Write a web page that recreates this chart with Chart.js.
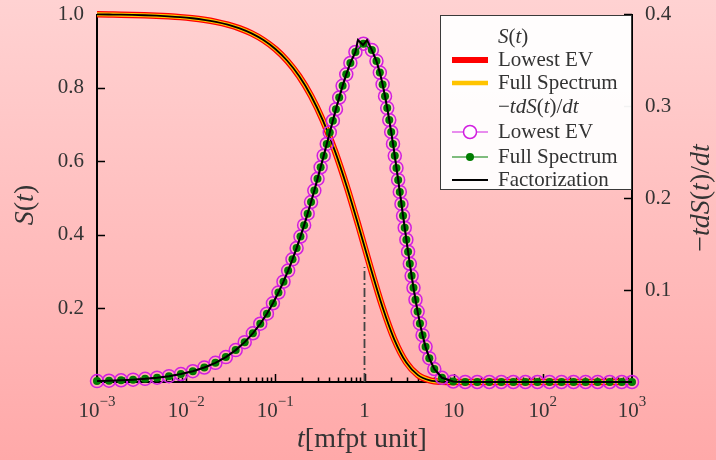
<!DOCTYPE html>
<html><head><meta charset="utf-8">
<script src="https://cdn.jsdelivr.net/npm/chart.js@4"></script>
<style>html,body{margin:0;padding:0;background:#ffc0c0;} canvas{display:block}</style>
</head><body>
<canvas id="c" width="716" height="460"></canvas>
<script>
// ---- data ----
// S(t) curves
const tSurvival = [0.001, 0.0013594, 0.0018478, 0.0025119, 0.0034145, 0.0046416, 0.0063096, 0.008577, 0.011659, 0.015849,
  0.021544, 0.029286, 0.039811, 0.054117, 0.073564, 0.1, 0.13594, 0.18478, 0.25119, 0.34145,
  0.46416, 0.63096, 0.8577, 1.1659, 1.5849, 2.1544, 2.9286, 3.9811, 5.4117, 7.3564,
  10, 13.594, 18.478, 25.119, 34.145, 46.416, 63.096, 85.77, 116.59, 158.49,
  215.44, 292.86, 398.11, 541.17, 735.64, 1000];
const survivalLowestEV = [0.999, 0.9986, 0.9982, 0.9975, 0.9966, 0.9954, 0.9937, 0.9915, 0.9884, 0.9843,
  0.9787, 0.9711, 0.961, 0.9473, 0.9291, 0.9048, 0.8729, 0.8313, 0.7779, 0.7107,
  0.6287, 0.5321, 0.4242, 0.3116, 0.205, 0.116, 0.0535, 0.0187, 0.0045, 0.0006,
  0, 0, 0, 0, 0, 0, 0, 0, 0, 0, 0, 0, 0, 0, 0, 0];
const survivalFullSpectrum = [0.999, 0.9986, 0.9982, 0.9975, 0.9966, 0.9954, 0.9937, 0.9915, 0.9884, 0.9843,
  0.9787, 0.9711, 0.961, 0.9473, 0.9291, 0.9048, 0.8729, 0.8313, 0.7779, 0.7107,
  0.6287, 0.5321, 0.4242, 0.3116, 0.205, 0.116, 0.0535, 0.0187, 0.0045, 0.0006,
  0, 0, 0, 0, 0, 0, 0, 0, 0, 0, 0, 0, 0, 0, 0, 0];
const survivalFactorization = [0.999, 0.9986, 0.9982, 0.9975, 0.9966, 0.9954, 0.9937, 0.9915, 0.9884, 0.9843,
  0.9787, 0.9711, 0.961, 0.9473, 0.9291, 0.9048, 0.8729, 0.8313, 0.7779, 0.7107,
  0.6287, 0.5321, 0.4242, 0.3116, 0.205, 0.116, 0.0535, 0.0187, 0.0045, 0.0006,
  0, 0, 0, 0, 0, 0, 0, 0, 0, 0, 0, 0, 0, 0, 0, 0];

// -t dS/dt: marker positions (evenly spaced along the drawn curve)
const tMarkers = [0.001, 0.001363, 0.001861, 0.002538, 0.003462, 0.004715, 0.006412, 0.008729, 0.01187, 0.01598,
  0.02128, 0.02786, 0.03593, 0.04534, 0.05598, 0.06776, 0.08045, 0.09397, 0.1083, 0.1234,
  0.1392, 0.1558, 0.1732, 0.1914, 0.2104, 0.2304, 0.2514, 0.2737, 0.2972, 0.3221,
  0.3487, 0.3772, 0.4079, 0.4416, 0.4786, 0.5203, 0.5679, 0.6243, 0.6944, 0.7914,
  0.9710, 1.210, 1.362, 1.486, 1.596, 1.699, 1.798, 1.896, 1.992, 2.088,
  2.185, 2.283, 2.385, 2.488, 2.597, 2.707, 2.824, 2.948, 3.080, 3.222,
  3.376, 3.544, 3.731, 3.942, 4.186, 4.477, 4.841, 5.327, 6.062, 7.394,
  9.874, 13.47, 18.38, 25.08, 34.23, 46.71, 63.74, 86.99, 118.7, 162.0,
  221.1, 301.6, 411.7, 561.8, 766.7, 1000];
const densityLowestEV = [0.000999, 0.001361, 0.001858, 0.002532, 0.003450, 0.004693, 0.006371, 0.008653, 0.01173, 0.01572,
  0.02083, 0.02710, 0.03467, 0.04333, 0.05293, 0.06332, 0.07423, 0.08554, 0.09722, 0.1091,
  0.1211, 0.1333, 0.1456, 0.1581, 0.1705, 0.1830, 0.1956, 0.2081, 0.2208, 0.2334,
  0.2460, 0.2587, 0.2712, 0.2840, 0.2966, 0.3092, 0.3219, 0.3344, 0.3468, 0.3587,
  0.3677, 0.3608, 0.3488, 0.3363, 0.3235, 0.3106, 0.2977, 0.2847, 0.2718, 0.2588,
  0.2458, 0.2327, 0.2197, 0.2066, 0.1935, 0.1806, 0.1677, 0.1547, 0.1416, 0.1285,
  0.1154, 0.1024, 0.0895, 0.0765, 0.0637, 0.0509, 0.0382, 0.0259, 0.0141, 0.0046,
  0.0005, 0, 0, 0, 0, 0, 0, 0, 0, 0,
  0, 0, 0, 0, 0, 0];
const densityFullSpectrum = [0.000999, 0.001361, 0.001858, 0.002532, 0.003450, 0.004693, 0.006371, 0.008653, 0.01173, 0.01572,
  0.02083, 0.02710, 0.03467, 0.04333, 0.05293, 0.06332, 0.07423, 0.08554, 0.09722, 0.1091,
  0.1211, 0.1333, 0.1456, 0.1581, 0.1705, 0.1830, 0.1956, 0.2081, 0.2208, 0.2334,
  0.2460, 0.2587, 0.2712, 0.2840, 0.2966, 0.3092, 0.3219, 0.3344, 0.3468, 0.3587,
  0.3677, 0.3608, 0.3488, 0.3363, 0.3235, 0.3106, 0.2977, 0.2847, 0.2718, 0.2588,
  0.2458, 0.2327, 0.2197, 0.2066, 0.1935, 0.1806, 0.1677, 0.1547, 0.1416, 0.1285,
  0.1154, 0.1024, 0.0895, 0.0765, 0.0637, 0.0509, 0.0382, 0.0259, 0.0141, 0.0046,
  0.0005, 0, 0, 0, 0, 0, 0, 0, 0, 0,
  0, 0, 0, 0, 0, 0];
// Factorization follows the same points, with a small double peak near t = 1
const factorizationPeakIndex = 40;
const factorizationPeakT = [0.845, 0.962, 1.067];
const factorizationPeakValue = [0.3717, 0.3663, 0.3717];

const markerLineT = [1, 1];
const markerLineS = [0, 0.3125];

const xTickValues = [0.001, 0.01, 0.1, 1, 10, 100, 1000];
const xTickBases = ['10', '10', '10', '1', '10', '10', '10'];
const xTickExps = ['\u22123', '\u22122', '\u22121', '', '', '2', '3'];
const leftTickValues = [0.2, 0.4, 0.6, 0.8, 1.0];
const leftTickLabels = ['0.2', '0.4', '0.6', '0.8', '1.0'];
const rightTickValues = [0.1, 0.2, 0.3, 0.4];
const rightTickLabels = ['0.1', '0.2', '0.3', '0.4'];

const pts = (xs, ys) => xs.map((x, i) => ({x: x, y: ys[i]}));
const factT = tMarkers.slice(0, factorizationPeakIndex).concat(factorizationPeakT, tMarkers.slice(factorizationPeakIndex + 1));
const factV = densityLowestEV.slice(0, factorizationPeakIndex).concat(factorizationPeakValue, densityLowestEV.slice(factorizationPeakIndex + 1));

const FONT = "'Liberation Serif', 'Times New Roman', serif";
const TEXT = '#333333';
const RED = '#ff0000', GOLD = '#ffc400', MAG = '#d21ee0', GREEN = '#007d00';

function runsWidth(ctx, runs, size) {
  let w = 0;
  runs.forEach(r => { ctx.font = (r[1] ? 'italic ' : '') + size + 'px ' + FONT; w += ctx.measureText(r[0]).width; });
  return w;
}
function drawRuns(ctx, runs, x, y, size, align) {
  const total = runsWidth(ctx, runs, size);
  let cx = align === 'center' ? x - total / 2 : (align === 'right' ? x - total : x);
  ctx.textAlign = 'left';
  runs.forEach(r => {
    ctx.font = (r[1] ? 'italic ' : '') + size + 'px ' + FONT;
    ctx.fillText(r[0], cx, y);
    cx += ctx.measureText(r[0]).width;
  });
}

const bgPlugin = {
  id: 'bg',
  beforeDraw(chart) {
    const ctx = chart.ctx;
    const g = ctx.createLinearGradient(0, 0, 0, chart.height);
    g.addColorStop(0, '#ffd2d2');
    g.addColorStop(1, '#ffa9a9');
    ctx.save(); ctx.fillStyle = g; ctx.fillRect(0, 0, chart.width, chart.height); ctx.restore();
  }
};

const axesPlugin = {
  id: 'axesFrame',
  beforeDatasetsDraw(chart) {
    const ctx = chart.ctx, a = chart.chartArea;
    const xs = chart.scales.x, y = chart.scales.y, y2 = chart.scales.y2;
    ctx.save();
    ctx.strokeStyle = '#000'; ctx.lineWidth = 2;
    ctx.beginPath();
    ctx.moveTo(a.left, a.top); ctx.lineTo(a.left, a.bottom); ctx.lineTo(a.right, a.bottom); ctx.lineTo(a.right, a.top);
    ctx.stroke();
    ctx.lineWidth = 1.5;
    ctx.beginPath();
    for (let e = -3; e <= 2; e++) {
      for (let m = 1; m <= 9; m++) {
        const v = m * Math.pow(10, e);
        const px = Math.round(xs.getPixelForValue(v)) + 0.5;
        const len = m === 1 ? 8 : 4.5;
        ctx.moveTo(px, a.bottom); ctx.lineTo(px, a.bottom - len);
      }
    }
    leftTickValues.forEach(v => { const py = Math.round(y.getPixelForValue(v)) + 0.5; ctx.moveTo(a.left, py); ctx.lineTo(a.left + 8, py); });
    rightTickValues.forEach(v => { const py = Math.round(y2.getPixelForValue(v)) + 0.5; ctx.moveTo(a.right, py); ctx.lineTo(a.right - 8, py); });
    ctx.stroke();
    ctx.restore();
  },
  afterDraw(chart) {
    const ctx = chart.ctx;
    const xs = chart.scales.x, y = chart.scales.y, y2 = chart.scales.y2;
    ctx.save();
    ctx.fillStyle = TEXT;
    ctx.textBaseline = 'middle';
    ctx.font = '21px ' + FONT;
    ctx.textAlign = 'right';
    leftTickValues.forEach((v, i) => ctx.fillText(leftTickLabels[i], 84, y.getPixelForValue(v)));
    ctx.textAlign = 'left';
    rightTickValues.forEach((v, i) => ctx.fillText(rightTickLabels[i], 645, y2.getPixelForValue(v)));
    ctx.textBaseline = 'alphabetic';
    xTickValues.forEach((v, i) => {
      const px = xs.getPixelForValue(v);
      ctx.font = '21px ' + FONT; const wb = ctx.measureText(xTickBases[i]).width;
      ctx.font = '15px ' + FONT; const we = xTickExps[i] ? ctx.measureText(xTickExps[i]).width : 0;
      const x0 = px - (wb + we) / 2;
      ctx.textAlign = 'left';
      ctx.font = '21px ' + FONT; ctx.fillText(xTickBases[i], x0, 417);
      if (xTickExps[i]) { ctx.font = '15px ' + FONT; ctx.fillText(xTickExps[i], x0 + wb, 406); }
    });
    ctx.textBaseline = 'middle';
    drawRuns(ctx, [['t', 1], ['[mfpt unit]', 0]], 362, 440, 28, 'center');
    ctx.save(); ctx.translate(26, 205); ctx.rotate(-Math.PI / 2);
    drawRuns(ctx, [['S', 1], ['(', 0], ['t', 1], [')', 0]], 0, 0, 28, 'center');
    ctx.restore();
    ctx.save(); ctx.translate(702, 198); ctx.rotate(-Math.PI / 2);
    drawRuns(ctx, [['\u2212', 0], ['tdS', 1], ['(', 0], ['t', 1], [')/', 0], ['dt', 1]], 0, 0, 28, 'center');
    ctx.restore();

    // legend
    const L = 440.5, T = 15.5, W = 191, H = 174;
    ctx.fillStyle = 'rgba(255,255,255,0.95)';
    ctx.fillRect(L, T, W, H);
    ctx.strokeStyle = '#3a3a3a'; ctx.lineWidth = 1;
    ctx.strokeRect(L, T, W, H);
    const rows = [
      {runs: [['S', 1], ['(', 0], ['t', 1], [')', 0]], y: 37},
      {runs: [['Lowest EV', 0]], y: 60, h: 'red'},
      {runs: [['Full Spectrum', 0]], y: 83, h: 'gold'},
      {runs: [['\u2212', 0], ['tdS', 1], ['(', 0], ['t', 1], [')/', 0], ['dt', 1]], y: 107},
      {runs: [['Lowest EV', 0]], y: 132, h: 'mag'},
      {runs: [['Full Spectrum', 0]], y: 157, h: 'green'},
      {runs: [['Factorization', 0]], y: 180, h: 'black'}
    ];
    const hx0 = 452, hx1 = 488, tx = 498;
    rows.forEach(r => {
      ctx.fillStyle = TEXT; ctx.textBaseline = 'middle';
      drawRuns(ctx, r.runs, tx, r.y, 21, 'left');
      if (!r.h) return;
      ctx.beginPath();
      ctx.moveTo(hx0, r.y); ctx.lineTo(hx1, r.y);
      if (r.h === 'red') { ctx.strokeStyle = RED; ctx.lineWidth = 6; ctx.lineCap = 'butt'; ctx.stroke(); }
      else if (r.h === 'gold') { ctx.strokeStyle = GOLD; ctx.lineWidth = 4.5; ctx.stroke(); }
      else if (r.h === 'black') { ctx.strokeStyle = '#000'; ctx.lineWidth = 2; ctx.stroke(); }
      else if (r.h === 'mag') {
        ctx.strokeStyle = MAG; ctx.lineWidth = 1.2; ctx.stroke();
        ctx.beginPath(); ctx.arc((hx0 + hx1) / 2, r.y, 6.5, 0, Math.PI * 2); ctx.fillStyle = '#fff'; ctx.fill();
        ctx.lineWidth = 1.5; ctx.stroke();
      } else if (r.h === 'green') {
        ctx.strokeStyle = GREEN; ctx.lineWidth = 1.2; ctx.stroke();
        ctx.beginPath(); ctx.arc((hx0 + hx1) / 2, r.y, 4, 0, Math.PI * 2); ctx.fillStyle = GREEN; ctx.fill();
      }
    });
    ctx.restore();
  }
};

new Chart(document.getElementById('c'), {
  type: 'line',
  data: {
    datasets: [
      {label: 'tdS Factorization', data: pts(factT, factV), yAxisID: 'y2', order: 1,
       borderColor: '#000', borderWidth: 2, pointRadius: 0, tension: 0, clip: false},
      {label: 'tdS Full Spectrum', data: pts(tMarkers, densityFullSpectrum), yAxisID: 'y2', order: 2,
       borderColor: GREEN, borderWidth: 1.2, pointRadius: 4, pointBackgroundColor: GREEN, pointBorderColor: GREEN,
       pointBorderWidth: 0, tension: 0, clip: false},
      {label: 'tdS Lowest EV', data: pts(tMarkers, densityLowestEV), yAxisID: 'y2', order: 3,
       borderColor: MAG, borderWidth: 1.2, pointRadius: 6.5, pointBackgroundColor: 'rgba(0,0,0,0)', pointBorderColor: MAG,
       pointBorderWidth: 1.5, tension: 0, clip: false},
      {label: 'S Factorization', data: pts(tSurvival, survivalFactorization), yAxisID: 'y', order: 4,
       borderColor: '#000', borderWidth: 1.8, pointRadius: 0, cubicInterpolationMode: 'monotone', clip: false},
      {label: 'S Full Spectrum', data: pts(tSurvival, survivalFullSpectrum), yAxisID: 'y', order: 5,
       borderColor: GOLD, borderWidth: 4, pointRadius: 0, cubicInterpolationMode: 'monotone', clip: false},
      {label: 'S Lowest EV', data: pts(tSurvival, survivalLowestEV), yAxisID: 'y', order: 6,
       borderColor: RED, borderWidth: 6.5, pointRadius: 0, cubicInterpolationMode: 'monotone', clip: false},
      {label: 'mean', data: pts(markerLineT, markerLineS), yAxisID: 'y', order: 7,
       borderColor: '#444', borderWidth: 1.8, borderDash: [9, 3, 2, 3], pointRadius: 0, clip: false}
    ]
  },
  options: {
    responsive: false, animation: false, events: [],
    layout: {padding: {left: 97, right: 84, top: 14, bottom: 78}},
    plugins: {legend: {display: false}, tooltip: {enabled: false}},
    scales: {
      x: {type: 'logarithmic', min: 0.001, max: 1000, display: false},
      y: {type: 'linear', min: 0, max: 1, display: false},
      y2: {type: 'linear', min: 0, max: 0.4, display: false, position: 'right'}
    }
  },
  plugins: [bgPlugin, axesPlugin]
});
</script>
</body></html>
